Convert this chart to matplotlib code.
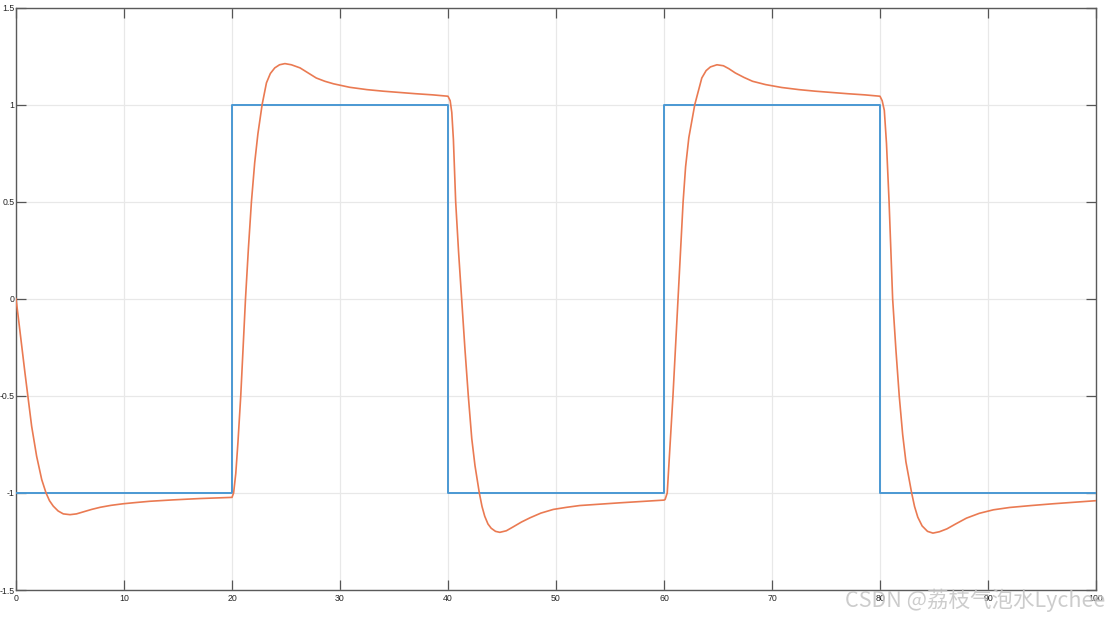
import matplotlib
matplotlib.use("Agg")
import matplotlib.pyplot as plt

# Reference (square wave) signal
ref_t = [0, 20, 40, 60, 80, 100]
ref_y = [-1, 1, -1, 1, -1, -1]

# System response
resp_t = [
    0.0, 0.2, 0.53, 0.83, 1.14, 1.45, 1.91, 2.38, 2.78, 3.1, 3.45, 3.9, 4.38, 5.0, 5.6, 6.2, 7.0, 7.8,
    8.8, 9.9, 11.0, 12.4, 14.5, 17.0, 20.0,
    20.15, 20.35, 20.55, 20.81, 21.03, 21.25, 21.52, 21.8, 22.1, 22.4, 22.79, 23.19, 23.55, 23.96,
    24.4, 24.9, 25.5, 26.3, 27.0, 27.8, 28.6, 29.4, 30.9, 32.5, 34.0, 35.6, 37.0, 38.6, 40.0,
    40.2, 40.35, 40.5, 40.71, 40.98, 41.26, 41.57, 41.88, 42.2, 42.5, 42.9, 43.15, 43.4, 43.7, 44.0, 44.4, 44.8,
    45.4, 46.0, 46.8, 47.6, 48.6, 49.75, 51.0, 52.2, 54.0, 55.9, 58.0, 60.0,
    60.1, 60.3, 60.55, 60.83, 61.07, 61.3, 61.53, 61.77, 62.0, 62.3, 62.85, 63.5, 63.9, 64.3,
    64.9, 65.5, 66.0, 66.6, 67.4, 68.2, 69.4, 70.9, 72.5, 74.0, 75.6, 77.0, 78.6, 80.0,
    80.2, 80.4, 80.6, 80.84, 81.0, 81.17, 81.47, 81.78, 82.1, 82.4, 82.93, 83.2, 83.5, 83.9, 84.4,
    84.9, 85.5, 86.2, 87.0, 88.0, 89.2, 90.5, 92.0, 94.0, 96.0, 98.0, 100.0,
]
resp_y = [
    0.0, -0.09, -0.245, -0.382, -0.519, -0.657, -0.811, -0.931, -1.0, -1.04, -1.068, -1.093, -1.108,
    -1.112, -1.108, -1.098, -1.085, -1.074, -1.064, -1.056, -1.05, -1.043, -1.036, -1.029, -1.023,
    -1.0, -0.9, -0.74, -0.5, -0.25, 0.0, 0.26, 0.5, 0.7, 0.85, 1.0, 1.112, 1.16, 1.189,
    1.205, 1.211, 1.205, 1.189, 1.165, 1.137, 1.12, 1.107, 1.089, 1.077, 1.069, 1.062, 1.056, 1.05, 1.043,
    1.02, 0.96, 0.82, 0.5, 0.24, 0.0, -0.26, -0.5, -0.72, -0.86, -1.0, -1.07, -1.12, -1.16, -1.182, -1.198, -1.203,
    -1.195, -1.176, -1.15, -1.128, -1.104, -1.085, -1.074, -1.065, -1.058, -1.051, -1.044, -1.037,
    -1.034, -1.0, -0.76, -0.5, -0.25, 0.0, 0.25, 0.5, 0.68, 0.83, 1.0, 1.137, 1.175, 1.194,
    1.205, 1.2, 1.185, 1.163, 1.14, 1.12, 1.103, 1.088, 1.077, 1.069, 1.062, 1.056, 1.05, 1.043,
    1.02, 0.97, 0.8, 0.5, 0.26, 0.0, -0.26, -0.5, -0.7, -0.84, -1.0, -1.07, -1.125, -1.17, -1.198,
    -1.207, -1.2, -1.185, -1.16, -1.13, -1.105, -1.087, -1.075, -1.065, -1.056, -1.048, -1.04,
]

x_ticks = [0, 10, 20, 30, 40, 50, 60, 70, 80, 90, 100]
x_labels = ["0", "10", "20", "30", "40", "50", "60", "70", "80", "90", "100"]
y_ticks = [-1.5, -1, -0.5, 0, 0.5, 1, 1.5]
y_labels = ["-1.5", "-1", "-0.5", "0", "0.5", "1", "1.5"]

watermark = "CSDN @荔枝气泡水Lychee"

plt.rcParams['font.family'] = ['Liberation Sans', 'DejaVu Sans']

fig = plt.figure(figsize=(11.08, 6.19), dpi=100)
ax = fig.add_axes([16 / 1108, 1 - 590 / 619, (1096 - 16) / 1108, (590 - 7.5) / 619])

ax.plot(ref_t, ref_y, drawstyle='steps-post', color='#4a98d3', lw=1.4, zorder=3)
ax.plot(resp_t, resp_y, color='#ea7a52', lw=1.2, zorder=4)

ax.set_xlim(0, 100)
ax.set_ylim(-1.5, 1.5)
ax.set_xticks(x_ticks)
ax.set_xticklabels(x_labels)
ax.set_yticks(y_ticks)
ax.set_yticklabels(y_labels)

ax.grid(True, color='#e8e8e8', lw=0.9)
ax.set_axisbelow(True)
ax.tick_params(direction='in', length=7, width=0.9, color='#555555', labelsize=6.3,
               labelcolor='#262626', top=True, right=True)
ax.tick_params(axis='y', pad=1)
ax.tick_params(axis='x', pad=3)
for s in ax.spines.values():
    s.set_color('#5a5a5a')
    s.set_linewidth(1.0)

fig.text(1105 / 1108, 1 - 600 / 619, watermark, ha='right', va='center', fontsize=15.5,
         color='#c4c4c4', alpha=0.85, family=['Noto Sans CJK SC', 'DejaVu Sans'], zorder=10)

fig.savefig('out.png', dpi=100)
